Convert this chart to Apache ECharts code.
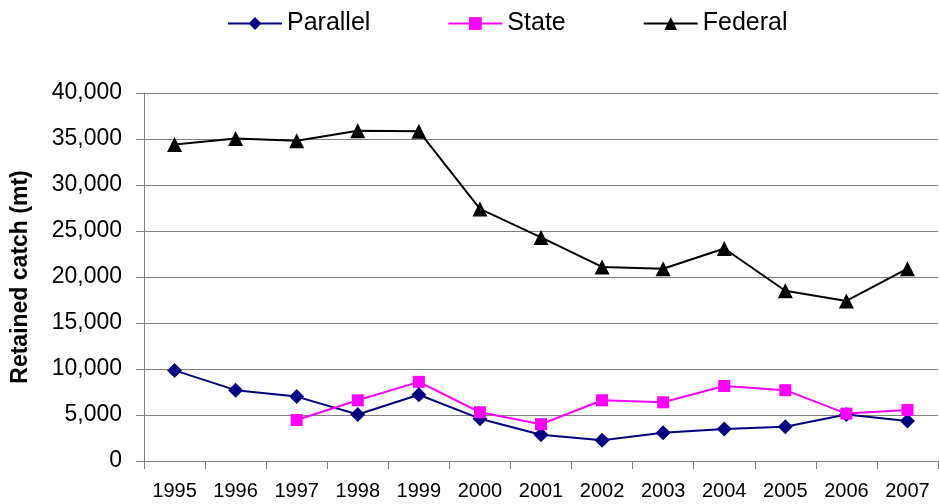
<!DOCTYPE html>
<html>
<head>
<meta charset="utf-8">
<script src="https://cdn.jsdelivr.net/npm/echarts@6/dist/echarts.min.js"></script>
<style>
  html, body { margin: 0; padding: 0; background: #fff; }
  #chart { width: 939px; height: 504px; }
</style>
</head>
<body>
<div id="chart"></div>
<script>
var years = ['1995', '1996', '1997', '1998', '1999', '2000', '2001', '2002', '2003', '2004', '2005', '2006', '2007'];
var parallel = [9850, 7700, 7000, 5050, 7200, 4600, 2850, 2250, 3080, 3480, 3730, 5050, 4350];
var state = [null, null, 4450, 6600, 8600, 5300, 4000, 6600, 6380, 8150, 7700, 5150, 5550];
var federal = [34400, 35050, 34800, 35900, 35850, 27400, 24300, 21100, 20900, 23100, 18500, 17400, 20900];

var chart = echarts.init(document.getElementById('chart'));
var font = 'Liberation Sans, Arial, sans-serif';

chart.setOption({
  animation: false,
  legend: {
    top: 6,
    left: 222,
    itemWidth: 54,
    itemHeight: 16,
    itemGap: 77,
    textStyle: { fontFamily: font, fontSize: 25, color: '#000' },
    data: ['Parallel', 'State', 'Federal']
  },
  grid: { left: 144, right: 1, top: 93, bottom: 43 },
  xAxis: {
    type: 'category',
    data: years,
    boundaryGap: true,
    axisLine: { lineStyle: { color: '#808080', width: 1 } },
    axisTick: { show: true, length: 8, lineStyle: { color: '#808080' } },
    axisLabel: { fontFamily: font, fontSize: 20, color: '#000', margin: 20, interval: 0 }
  },
  yAxis: {
    type: 'value',
    min: 0,
    max: 40000,
    interval: 5000,
    name: 'Retained catch (mt)',
    nameLocation: 'middle',
    nameGap: 112,
    nameTextStyle: { fontFamily: font, fontSize: 23, fontWeight: 'bold', color: '#000' },
    axisLine: { show: true, lineStyle: { color: '#808080', width: 1 } },
    axisTick: { show: true, length: 8, lineStyle: { color: '#808080' } },
    splitLine: { lineStyle: { color: '#808080', width: 1 } },
    axisLabel: {
      fontFamily: font, fontSize: 23, color: '#000', margin: 22,
      formatter: function (v) { return v.toLocaleString('en-US'); }
    }
  },
  series: [
    {
      name: 'Parallel',
      type: 'line',
      data: parallel,
      symbol: 'diamond',
      symbolSize: 15,
      itemStyle: { color: '#000080' },
      lineStyle: { color: '#000080', width: 2 }
    },
    {
      name: 'State',
      type: 'line',
      data: state,
      symbol: 'rect',
      symbolSize: 12,
      itemStyle: { color: '#ff00ff' },
      lineStyle: { color: '#ff00ff', width: 2 }
    },
    {
      name: 'Federal',
      type: 'line',
      data: federal,
      symbol: 'triangle',
      symbolSize: 15,
      itemStyle: { color: '#000' },
      lineStyle: { color: '#000', width: 2 }
    }
  ]
});
</script>
</body>
</html>
